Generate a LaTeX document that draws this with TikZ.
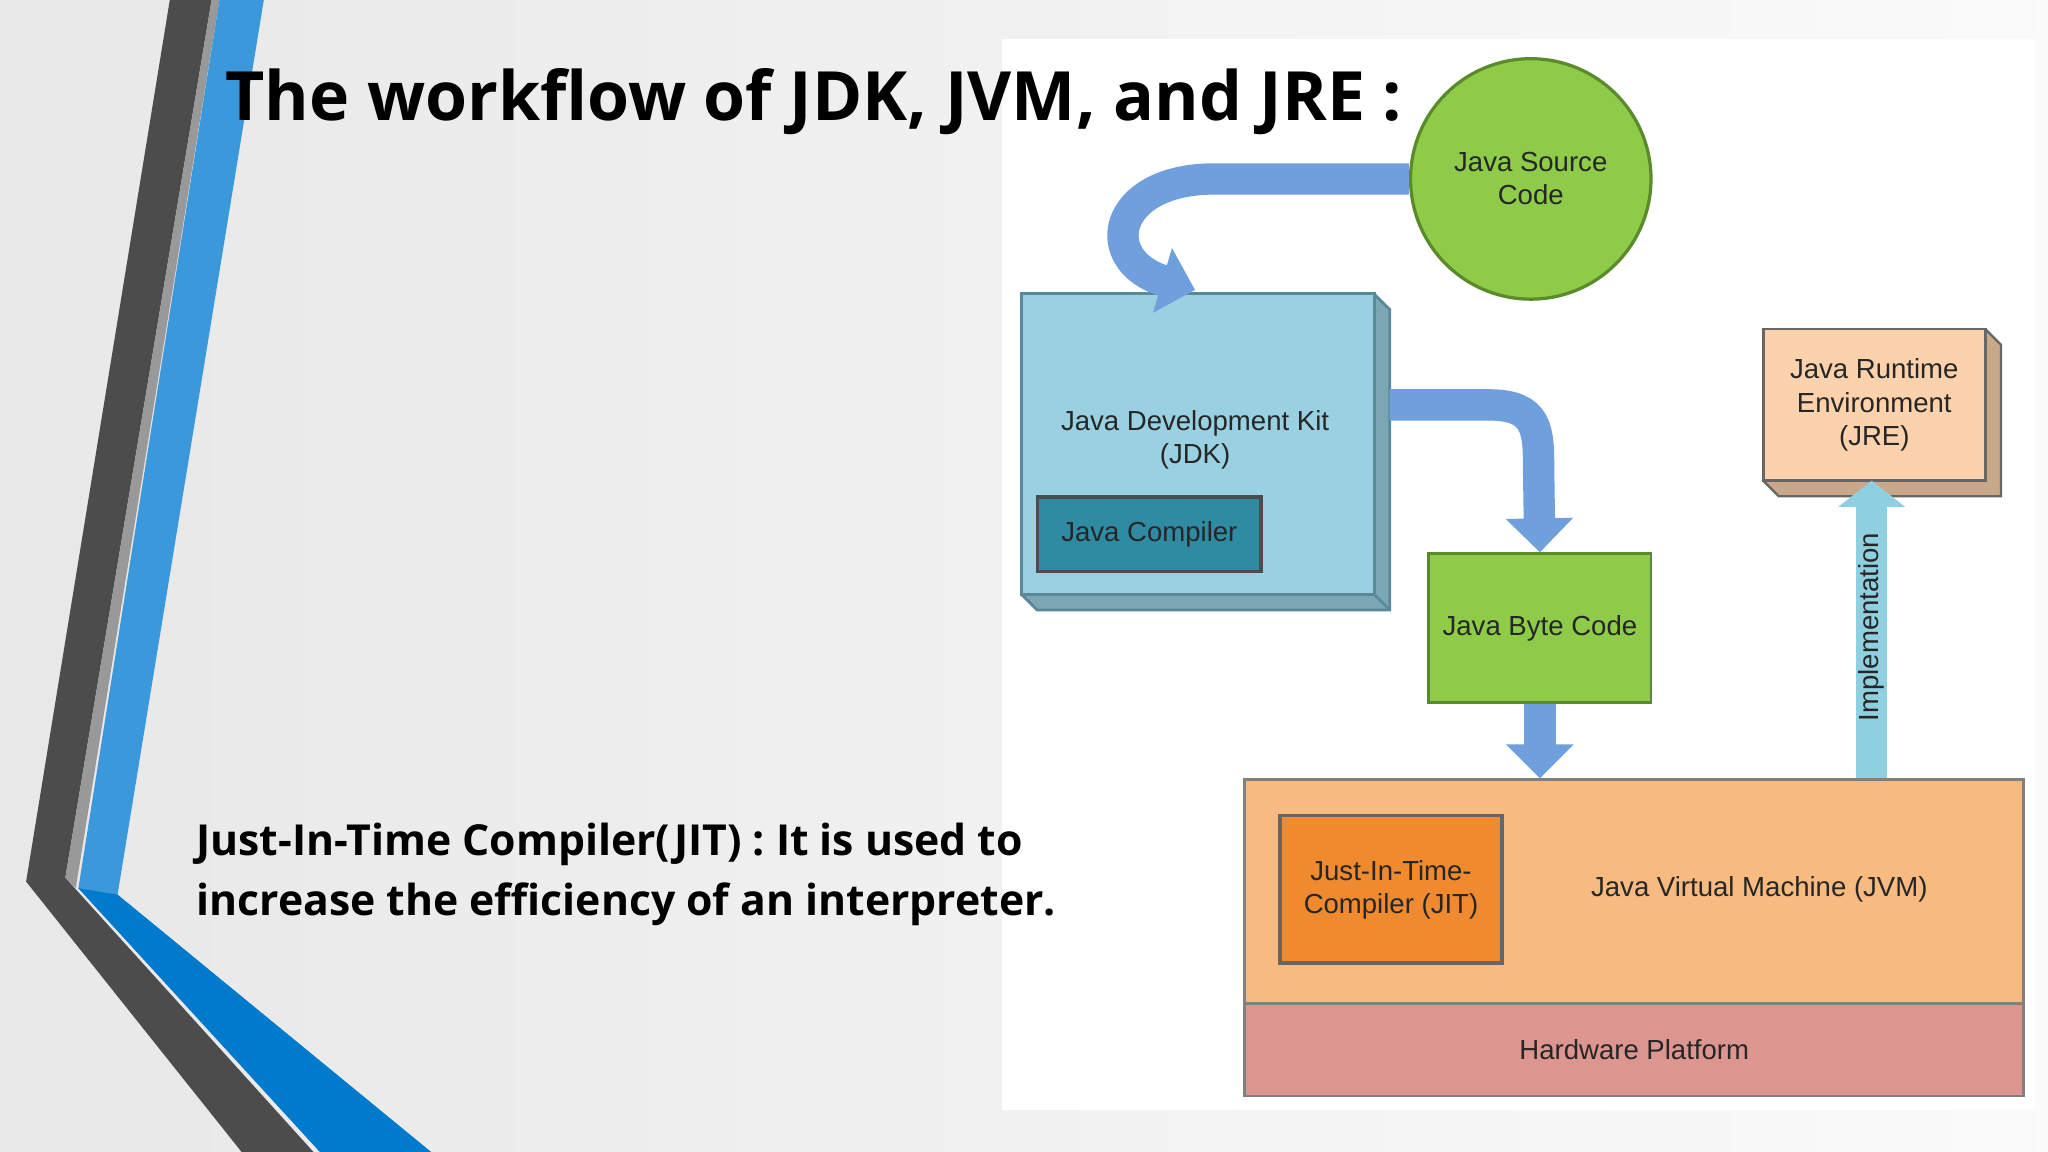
\documentclass[tikz,border=0pt]{standalone}
\usepackage{fontspec}
\setmainfont{Liberation Sans}
\newfontfamily\ttl{Open Sans}
\usetikzlibrary{arrows.meta,shapes.geometric}
\definecolor{blu}{HTML}{6F9FDC}
\definecolor{blud}{HTML}{4F7FC0}
\definecolor{grn}{HTML}{8DCB48}
\definecolor{grnd}{HTML}{5A8A2A}
\definecolor{jdk}{HTML}{9AD1E2}
\definecolor{jdkd}{HTML}{5A8A9A}
\definecolor{comp}{HTML}{2E8BA2}
\definecolor{jre}{HTML}{FBD2AC}
\definecolor{jvm}{HTML}{F7BA80}
\definecolor{jit}{HTML}{F08A2E}
\definecolor{hw}{HTML}{DC968F}
\definecolor{impl}{HTML}{8ECFE0}
\tikzset{
 lbl/.style={font=\fontsize{6}{7.2}\selectfont, align=center, text=black!85},
 box/.style={draw=#1!70!black, line width=0.6pt, inner sep=0pt},
 fat/.style={line width=0.24cm, draw=blu, -{Triangle[width=0.5cm,length=0.26cm]}},
 bold/.style={font=\ttl\bfseries}
}
\begin{document}
\begin{tikzpicture}[x=0.01cm,y=-0.01cm]
\useasboundingbox (0,0) rectangle (1568,882);
\shade[left color=gray!45, right color=gray!8] (0,0) rectangle (1568,882);
\shade[inner color=white, outer color=white!0, opacity=0.6] (0,0) rectangle (1568,882);
% stripes
\fill[black!70] (130,0) -- (162,0) -- (50,672) -- (240,882) -- (185,882) -- (20,675) -- cycle;
\fill[black!40] (162,0) -- (168,0) -- (58,680) -- (50,672) -- cycle;
\fill[cyan!70!blue!80] (168,0) -- (202,0) -- (90,685) -- (330,882) -- (245,882) -- (60,680) -- cycle;
\fill[blue!40!cyan!80!black] (60,680) -- (90,685) -- (330,882) -- (245,882) -- cycle;
% white panel
\fill[white] (767,30) rectangle (1558,850);
% title
\node[anchor=west, font=\ttl\bfseries\fontsize{14.8}{16}\selectfont] (title) at (160,78) {The workflow of JDK, JVM, and JRE :};
\node[anchor=north west, align=left, font=\ttl\bfseries\fontsize{9.3}{13}\selectfont] (jittext) at (138,618) {Just-In-Time Compiler(JIT) : It is used to\\increase the efficiency of an interpreter.};
% source code circle
\node[circle, draw=grnd, fill=grn, line width=0.7pt, minimum size=1.84cm, lbl] (src) at (1172,137) {Java Source\\Code};
% JDK box 3D
\fill[jdk!80!black] (782,455) -- (794,467) -- (1064,467) -- (1064,237) -- (1052,225) -- (1052,455) -- cycle;
\draw[jdkd, line width=0.6pt] (782,455) -- (794,467) -- (1064,467) -- (1064,237) -- (1052,225);
\draw[jdkd, line width=0.6pt] (1052,455) -- (1064,467);
\node[box=jdk, fill=jdk, draw=jdkd, minimum width=2.7cm, minimum height=2.3cm] (jdk) at (917,340) {};
\node[lbl] (jdkt) at (915,337) {Java Development Kit\\(JDK)};
\node[fill=comp, draw=black!70, line width=0.8pt, minimum width=1.71cm, minimum height=0.57cm, lbl] (comp) at (880,409) {Java Compiler};
% byte code
\node[box=grn, fill=grn, draw=grnd, minimum width=1.7cm, minimum height=1.14cm, lbl] (byte) at (1179,481) {Java Byte Code};
% JRE 3D
\fill[jre!80!black] (1350,368) -- (1362,380) -- (1532,380) -- (1532,264) -- (1520,252) -- (1520,368) -- cycle;
\draw[black!60, line width=0.5pt] (1350,368) -- (1362,380) -- (1532,380) -- (1532,264) -- (1520,252);
\node[box=jre, fill=jre, draw=black!60, minimum width=1.7cm, minimum height=1.16cm, lbl] (jre) at (1435,310) {Java Runtime\\Environment\\(JRE)};
% JVM + hardware
\node[box=jvm, fill=jvm, draw=black!50, minimum width=5.96cm, minimum height=1.71cm, anchor=north west] (jvm) at (952,596) {};
\node[lbl] (jvmt) at (1347,681) {Java Virtual Machine (JVM)};
\node[box=hw, fill=hw, draw=black!50, minimum width=5.96cm, minimum height=0.71cm, anchor=north west, lbl] (hw) at (952,767) {Hardware Platform};
\node[fill=jit, draw=black!60, line width=0.8pt, minimum width=1.7cm, minimum height=1.13cm, lbl] (jit) at (1065,681) {Just-In-Time-\\Compiler (JIT)};
% arrows
\draw[fat] (src.west) -- (930,137) .. controls (850,137) and (840,200) .. (915,222);
\draw[fat] (1064,310) -- (1140,310) .. controls (1178,310) and (1178,330) .. (1178,360) -- (byte.north);
\draw[fat] (byte.south) -- (jvm.north -| byte);
\draw[line width=0.24cm, draw=impl, -{Triangle[width=0.5cm,length=0.2cm]}] (1433,596) -- (1433,368);
\node[lbl, rotate=90] (implt) at (1433,480) {Implementation};
\end{tikzpicture}
\end{document}
